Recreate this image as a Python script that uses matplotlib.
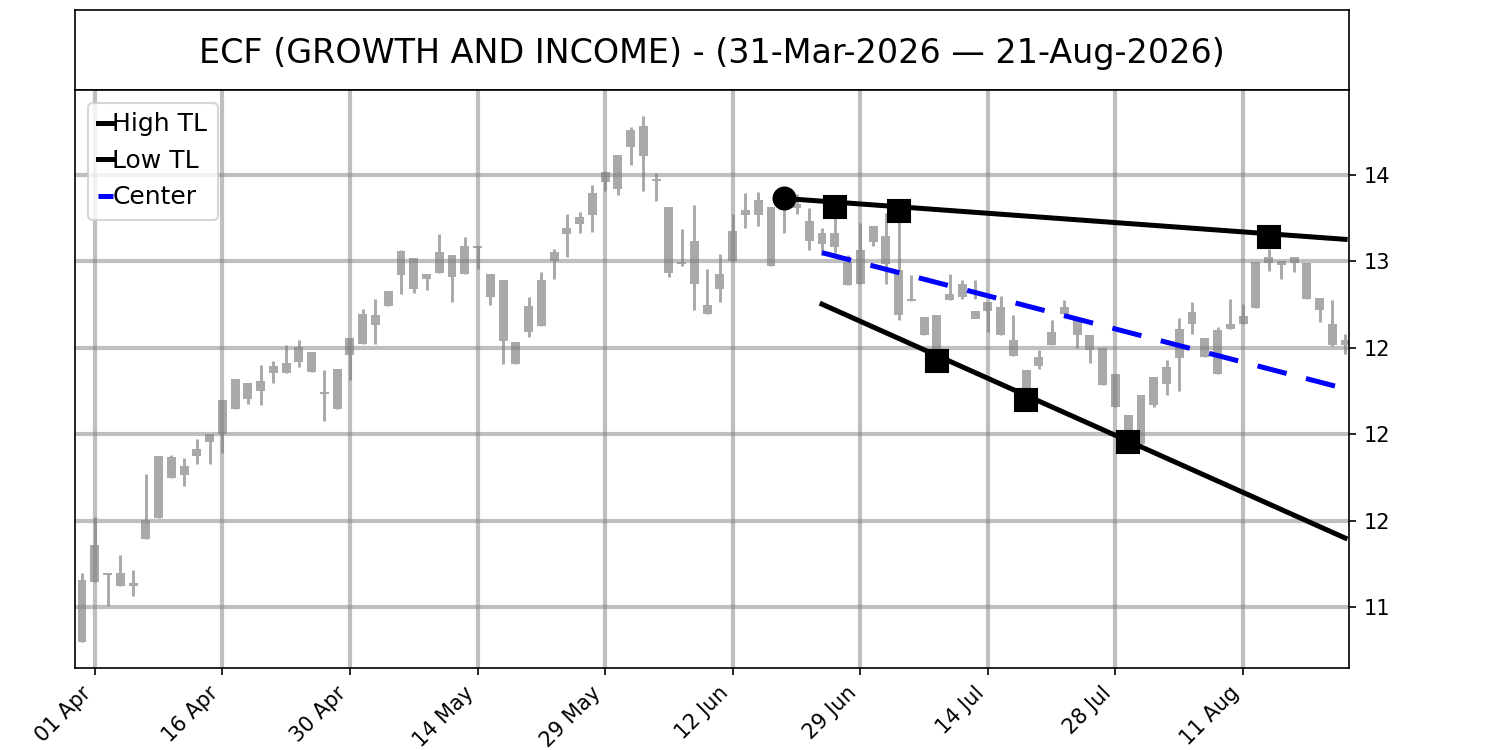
import numpy as np
import pandas as pd
import matplotlib
matplotlib.use("Agg")
import matplotlib.pyplot as plt

# trading days 31-Mar-2026 .. 21-Aug-2026 (US market holidays skipped)
holidays = ["2026-04-03", "2026-05-25", "2026-06-19", "2026-07-03"]
dates = pd.bdate_range("2026-03-31", "2026-08-21", freq="C", holidays=holidays)

# candle bodies / wicks
opens = [11.156, 11.358, 11.200, 11.195, 11.140, 11.503, 11.873, 11.869, 11.815, 11.917,
         12.000, 12.200, 12.322, 12.297, 12.308, 12.393, 12.412, 12.505, 12.476, 12.245,
         12.380, 12.559, 12.698, 12.692, 12.832, 13.058, 13.019, 12.929, 13.054, 13.035,
         13.088, 13.090, 12.929, 12.890, 12.533, 12.740, 12.890, 13.054, 13.193, 13.260,
         13.397, 13.516, 13.617, 13.761, 13.786, 13.477, 13.314, 12.997, 13.121, 12.751,
         12.929, 13.179, 13.299, 13.358, 13.314, 13.380, 13.330, 13.237, 13.164, 13.164,
         12.995, 13.064, 13.208, 13.150, 12.948, 12.784, 12.678, 12.688, 12.813, 12.871,
         12.711, 12.765, 12.736, 12.543, 12.374, 12.447, 12.591, 12.736, 12.659, 12.572,
         12.500, 12.351, 12.110, 12.225, 12.331, 12.389, 12.610, 12.707, 12.559, 12.605,
         12.640, 12.682, 12.996, 13.025, 13.000, 13.025, 12.992, 12.788, 12.640, 12.547]
closes = [10.800, 11.146, 11.185, 11.121, 11.120, 11.397, 11.518, 11.750, 11.763, 11.873,
          11.956, 12.000, 12.149, 12.206, 12.250, 12.354, 12.354, 12.418, 12.360, 12.232,
          12.149, 12.457, 12.524, 12.634, 12.745, 12.923, 12.838, 12.896, 12.934, 12.909,
          12.929, 13.077, 12.794, 12.540, 12.409, 12.591, 12.624, 13.002, 13.160, 13.214,
          13.266, 13.462, 13.420, 13.661, 13.613, 13.465, 12.935, 12.985, 12.867, 12.694,
          12.842, 13.002, 13.266, 13.266, 12.975, 13.300, 13.310, 13.117, 13.102, 13.083,
          12.861, 12.867, 13.112, 12.986, 12.688, 12.770, 12.572, 12.495, 12.775, 12.794,
          12.665, 12.713, 12.572, 12.451, 12.254, 12.393, 12.514, 12.694, 12.572, 12.486,
          12.283, 12.158, 11.936, 11.946, 12.168, 12.289, 12.443, 12.636, 12.447, 12.347,
          12.607, 12.636, 12.732, 12.992, 12.977, 12.992, 12.784, 12.717, 12.514, 12.514]
highs = [11.200, 11.522, 11.200, 11.300, 11.214, 11.769, 11.873, 11.879, 11.865, 11.975,
         12.000, 12.200, 12.322, 12.297, 12.399, 12.422, 12.514, 12.543, 12.476, 12.370,
         12.380, 12.559, 12.727, 12.784, 12.832, 13.064, 13.019, 12.929, 13.160, 13.035,
         13.140, 13.090, 12.929, 12.890, 12.533, 12.794, 12.938, 13.073, 13.272, 13.289,
         13.445, 13.522, 13.617, 13.780, 13.840, 13.513, 13.314, 13.190, 13.329, 12.958,
         13.045, 13.275, 13.397, 13.400, 13.314, 13.380, 13.393, 13.310, 13.195, 13.330,
         13.040, 13.225, 13.208, 13.283, 13.300, 12.919, 12.678, 12.688, 12.925, 12.894,
         12.894, 12.765, 12.803, 12.688, 12.374, 12.486, 12.663, 12.775, 12.659, 12.572,
         12.500, 12.351, 12.110, 12.225, 12.331, 12.432, 12.675, 12.765, 12.559, 12.620,
         12.784, 12.756, 12.996, 13.073, 13.000, 13.025, 12.992, 12.788, 12.775, 12.582]
lows = [10.800, 11.146, 11.006, 11.121, 11.065, 11.397, 11.518, 11.750, 11.700, 11.830,
        11.830, 11.890, 12.149, 12.177, 12.168, 12.297, 12.354, 12.389, 12.360, 12.075,
        12.149, 12.312, 12.524, 12.520, 12.745, 12.809, 12.819, 12.836, 12.934, 12.765,
        12.929, 12.958, 12.751, 12.409, 12.409, 12.562, 12.624, 12.900, 13.025, 13.164,
        13.170, 13.406, 13.387, 13.559, 13.410, 13.347, 12.913, 12.973, 12.717, 12.694,
        12.765, 13.002, 13.195, 13.205, 12.975, 13.165, 13.275, 13.067, 13.040, 13.048,
        12.861, 12.867, 13.090, 12.871, 12.659, 12.770, 12.572, 12.430, 12.775, 12.784,
        12.784, 12.591, 12.572, 12.451, 12.220, 12.380, 12.514, 12.694, 12.500, 12.412,
        12.283, 12.158, 11.930, 11.930, 12.158, 12.225, 12.250, 12.582, 12.447, 12.347,
        12.607, 12.636, 12.732, 12.944, 12.900, 12.938, 12.784, 12.650, 12.509, 12.462]

# trendlines (bar index, price)
high_tl_x = [55, 99]
high_tl_y = [13.365, 13.128]
low_tl_x = [58, 99]
low_tl_y = [12.753, 11.400]
start_x, start_y = 55, 13.365
high_piv_x = [59, 64, 93]
high_piv_y = [13.318, 13.291, 13.139]
low_piv_x = [67, 74, 82]
low_piv_y = [12.424, 12.197, 11.955]

tick_idx = [1, 11, 21, 31, 41, 51, 61, 71, 81, 91]

fig = plt.figure(figsize=(10, 5), dpi=150)
ax_t = fig.add_axes([0.05, 0.88, 0.8493, 0.1067])
ax = fig.add_axes([0.05, 0.1093, 0.8493, 0.7707])

ax_t.set_xticks([])
ax_t.set_yticks([])
title = "ECF (GROWTH AND INCOME) - (%s \u2014 %s)" % (
    dates[0].strftime("%d-%b-%Y"), dates[-1].strftime("%d-%b-%Y"))
ax_t.text(0.5, 0.46, title, ha="center", va="center", fontsize=16,
          transform=ax_t.transAxes)

x = np.arange(len(opens))
o = np.array(opens)
c = np.array(closes)
candle_col = "#a9a9a9"
ax.vlines(x, lows, highs, color=candle_col, lw=1.4, zorder=1)
ax.bar(x, c - o, bottom=o, width=0.7, color=candle_col, zorder=1)

ax.grid(True, color="gray", alpha=0.5, lw=2)

ax.plot(high_tl_x, high_tl_y, color="black", lw=2.4, label="High TL", zorder=3)
ax.plot(low_tl_x, low_tl_y, color="black", lw=2.4, label="Low TL", zorder=3)
cx = np.array([max(high_tl_x[0], low_tl_x[0]), min(high_tl_x[1], low_tl_x[1])])
cy = (np.interp(cx, high_tl_x, high_tl_y) + np.interp(cx, low_tl_x, low_tl_y)) / 2
ax.plot(cx, cy, color="blue", lw=2.4, dashes=(6, 4), label="Center", zorder=3)

ax.plot([start_x], [start_y], "o", color="black", ms=10.5, zorder=4)
ax.plot(high_piv_x, high_piv_y, "s", color="black", ms=10.5, zorder=4)
ax.plot(low_piv_x, low_piv_y, "s", color="black", ms=10.5, zorder=4)

ymin, ymax = min(lows), max(highs)
pad = 0.05 * (ymax - ymin)
ax.set_ylim(ymin - pad, ymax + pad)
ax.set_xlim(-0.55, 99.3)

ax.yaxis.tick_right()
yt = np.arange(11, 13.51, 0.5)
ax.set_yticks(yt)
ax.set_yticklabels(["{:.0f}".format(v) for v in yt])
ax.set_xticks(tick_idx)
ax.set_xticklabels([dates[i].strftime("%d %b") for i in tick_idx], rotation=45, ha="right")

ax.legend(loc="upper left", fontsize=12, handlelength=0.6, handletextpad=0.0)

fig.savefig("out.png", dpi=150)
